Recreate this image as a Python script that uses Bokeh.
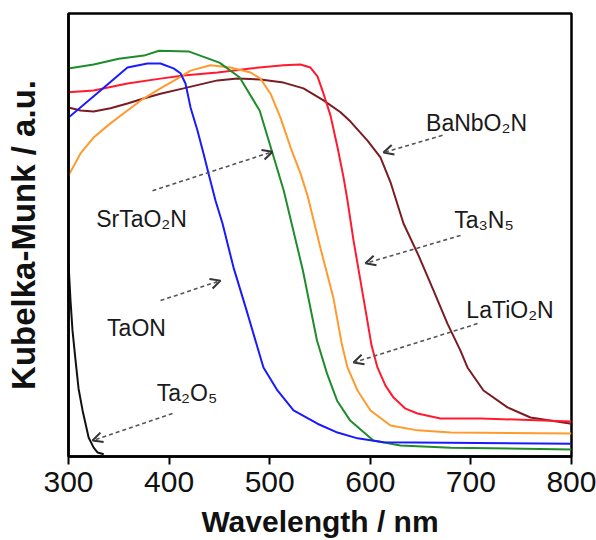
from bokeh.plotting import figure
from bokeh.models import Arrow, OpenHead, Label, FixedTicker, Range1d
from bokeh.embed import file_html
from bokeh.resources import INLINE

# ---- data (wavelength in nm, Kubelka-Munk in a.u.) ----
wl_ta2o5 = [300, 302, 304, 307, 310, 314, 320, 325, 329, 335]
km_ta2o5 = [43.8, 35.2, 28.4, 21.7, 15.3, 10.4, 4.3, 2.0, 0.9, 0.5]

wl_taon = [300, 331.8, 358.6, 378.5, 391.4, 404.4, 411.3, 416.3, 421.3, 428.2, 434.2,
           439.2, 446.1, 453.1, 464.0, 477.9, 487.9, 493.8, 507.7, 523.7, 547.5,
           567.4, 587.3, 613.1, 800]
km_taon = [76.5, 82.6, 87.8, 88.7, 88.7, 87.6, 86.5, 84.2, 78.8, 73.6, 68.4,
           63.9, 57.8, 52.6, 42.7, 32.3, 24.6, 20.1, 14.9, 10.4, 7.4,
           5.4, 4.1, 3.2, 2.9]

wl_srtao2n = [300, 325, 350, 375, 390, 420, 450, 470, 490, 505, 514, 533, 547,
              557, 567, 580, 603, 630, 680, 800]
km_srtao2n = [87.6, 88.5, 89.8, 90.5, 91.6, 91.4, 88.9, 85.6, 78.1, 66.8, 60.0, 42.0, 26.2,
              18.7, 12.6, 8.1, 3.6, 2.5, 2.0, 1.6]

wl_latio2n = [300, 311.9, 324.9, 341.7, 358.6, 374.6, 391.4, 408.3, 421.3, 441.1, 461.0,
              480.9, 490.8, 500.8, 510.7, 520.7, 530.6, 537.6, 550.5, 563.4, 571.4,
              577.3, 587.3, 600.2, 620.1, 646.9, 679.7, 800]
km_latio2n = [63.4, 68.4, 72.0, 75.2, 78.1, 80.8, 83.1, 85.3, 87.1, 88.3, 87.8,
              86.7, 85.3, 81.9, 76.5, 69.8, 63.9, 58.9, 47.0, 35.7, 25.7,
              20.1, 14.9, 10.4, 7.0, 5.9, 5.4, 5.2]

wl_ta3n5 = [300, 324.9, 358.6, 391.4, 414.3, 448.1, 480.9, 513.7, 530.6, 540.5, 547.5,
            553.5, 560.4, 567.4, 573.4, 577.3, 583.3, 590.2, 596.2, 601.2, 607.1,
            615.1, 623.1, 635.0, 646.9, 669.8, 709.5, 800]
km_ta3n5 = [82.2, 82.6, 84.2, 85.3, 86.0, 86.7, 87.6, 88.3, 88.5, 87.8, 85.8,
            81.9, 77.0, 69.8, 63.0, 57.8, 48.8, 39.7, 31.8, 25.1, 20.1,
            16.0, 13.3, 10.8, 9.7, 8.6, 8.6, 7.9]

wl_banbo2n = [300, 311.9, 324.9, 341.7, 358.6, 374.6, 391.4, 414.3, 448.1, 468.0, 490.8,
              513.7, 533.6, 553.5, 570.4, 580.3, 597.2, 610.1, 620.1, 633.0, 647.9,
              662.8, 676.7, 689.6, 696.6, 712.5, 736.4, 759.2, 800]
km_banbo2n = [78.8, 78.1, 77.9, 78.6, 79.7, 80.8, 81.9, 83.1, 84.9, 85.3, 85.1,
              84.4, 83.1, 80.4, 77.7, 75.6, 71.3, 67.5, 61.9, 52.6, 45.4,
              37.5, 30.0, 23.9, 20.1, 14.9, 11.1, 8.8, 7.4]

x_ticks = [300, 400, 500, 600, 700, 800]

# ---- figure ----
p = figure(width=596, height=540, x_range=Range1d(300, 800), y_range=Range1d(0, 100),
           output_backend="svg", toolbar_location=None,
           min_border_left=68, min_border_right=25, min_border_top=13, min_border_bottom=84)
p.grid.visible = False
p.background_fill_color = "white"
p.border_fill_color = "white"
p.outline_line_color = "black"
p.outline_line_width = 2.5
p.outline_line_alpha = 1.0

FONT = "Liberation Sans"

p.xaxis.ticker = FixedTicker(ticks=x_ticks)
p.xaxis.minor_tick_line_color = None
p.xaxis.major_tick_in = 0
p.xaxis.major_tick_out = 8
p.xaxis.major_tick_line_width = 2
p.xaxis.major_tick_line_color = "black"
p.xaxis.axis_line_width = 2.5
p.xaxis.axis_line_color = "black"
p.xaxis.major_label_text_font = FONT
p.xaxis.major_label_text_font_size = "30px"
p.xaxis.major_label_text_color = "#111111"
p.xaxis.major_label_standoff = 7
p.xaxis.axis_label = "Wavelength / nm"
p.xaxis.axis_label_text_font = FONT
p.xaxis.axis_label_text_font_size = "30px"
p.xaxis.axis_label_text_font_style = "bold"
p.xaxis.axis_label_text_color = "#111111"
p.xaxis.axis_label_standoff = 10

p.yaxis.ticker = FixedTicker(ticks=[])
p.yaxis.minor_tick_line_color = None
p.yaxis.major_tick_out = 0
p.yaxis.major_tick_in = 0
p.yaxis.axis_line_width = 2.5
p.yaxis.axis_line_color = "black"
p.yaxis.axis_label = "Kubelka-Munk / a.u."
p.yaxis.axis_label_text_font = FONT
p.yaxis.axis_label_text_font_size = "33px"
p.yaxis.axis_label_text_font_style = "bold"
p.yaxis.axis_label_text_color = "#111111"
p.yaxis.axis_label_standoff = 27

# ---- curves ----
LW = 2
p.line(wl_banbo2n, km_banbo2n, line_color="#7a1c22", line_width=LW)
p.line(wl_ta3n5, km_ta3n5, line_color="#ff1a30", line_width=LW)
p.line(wl_latio2n, km_latio2n, line_color="#ff9a2e", line_width=LW)
p.line(wl_srtao2n, km_srtao2n, line_color="#1f8c2a", line_width=LW)
p.line(wl_taon, km_taon, line_color="#1a1aff", line_width=LW)
p.line(wl_ta2o5, km_ta2o5, line_color="#111111", line_width=LW)

# ---- annotations: (text, label x, label y, arrow start x, y, arrow end x, y) ----
annotations = [
    ("SrTaO\u2082N", 372.6, 53.7, 383.5, 60.0, 502.8, 68.8),
    ("BaNbO\u2082N", 705.6, 75.2, 671.8, 72.5, 613.1, 68.6),
    ("Ta\u2083N\u2085", 713.0, 53.3, 689.7, 49.9, 595.2, 43.6),
    ("LaTiO\u2082N", 738.9, 33.0, 706.6, 30.0, 583.3, 21.2),
    ("TaON", 367.6, 29.1, 391.5, 35.2, 451.1, 39.7),
    ("Ta\u2082O\u2085", 417.8, 14.4, 403.4, 9.7, 323.9, 3.6),
]
for txt, lx, ly, xs, ys, xe, ye in annotations:
    p.add_layout(Arrow(end=OpenHead(size=10, line_color="#333333", line_width=2),
                       x_start=xs, y_start=ys, x_end=xe, y_end=ye,
                       line_color="#555555", line_width=1.6, line_dash="4 3"))
    p.add_layout(Label(x=lx, y=ly, text=txt, text_align="center",
                       text_baseline="alphabetic", text_font=FONT,
                       text_font_size="23px", text_color="#1a1a1a"))

open("out.html", "w").write(file_html(p, INLINE))
